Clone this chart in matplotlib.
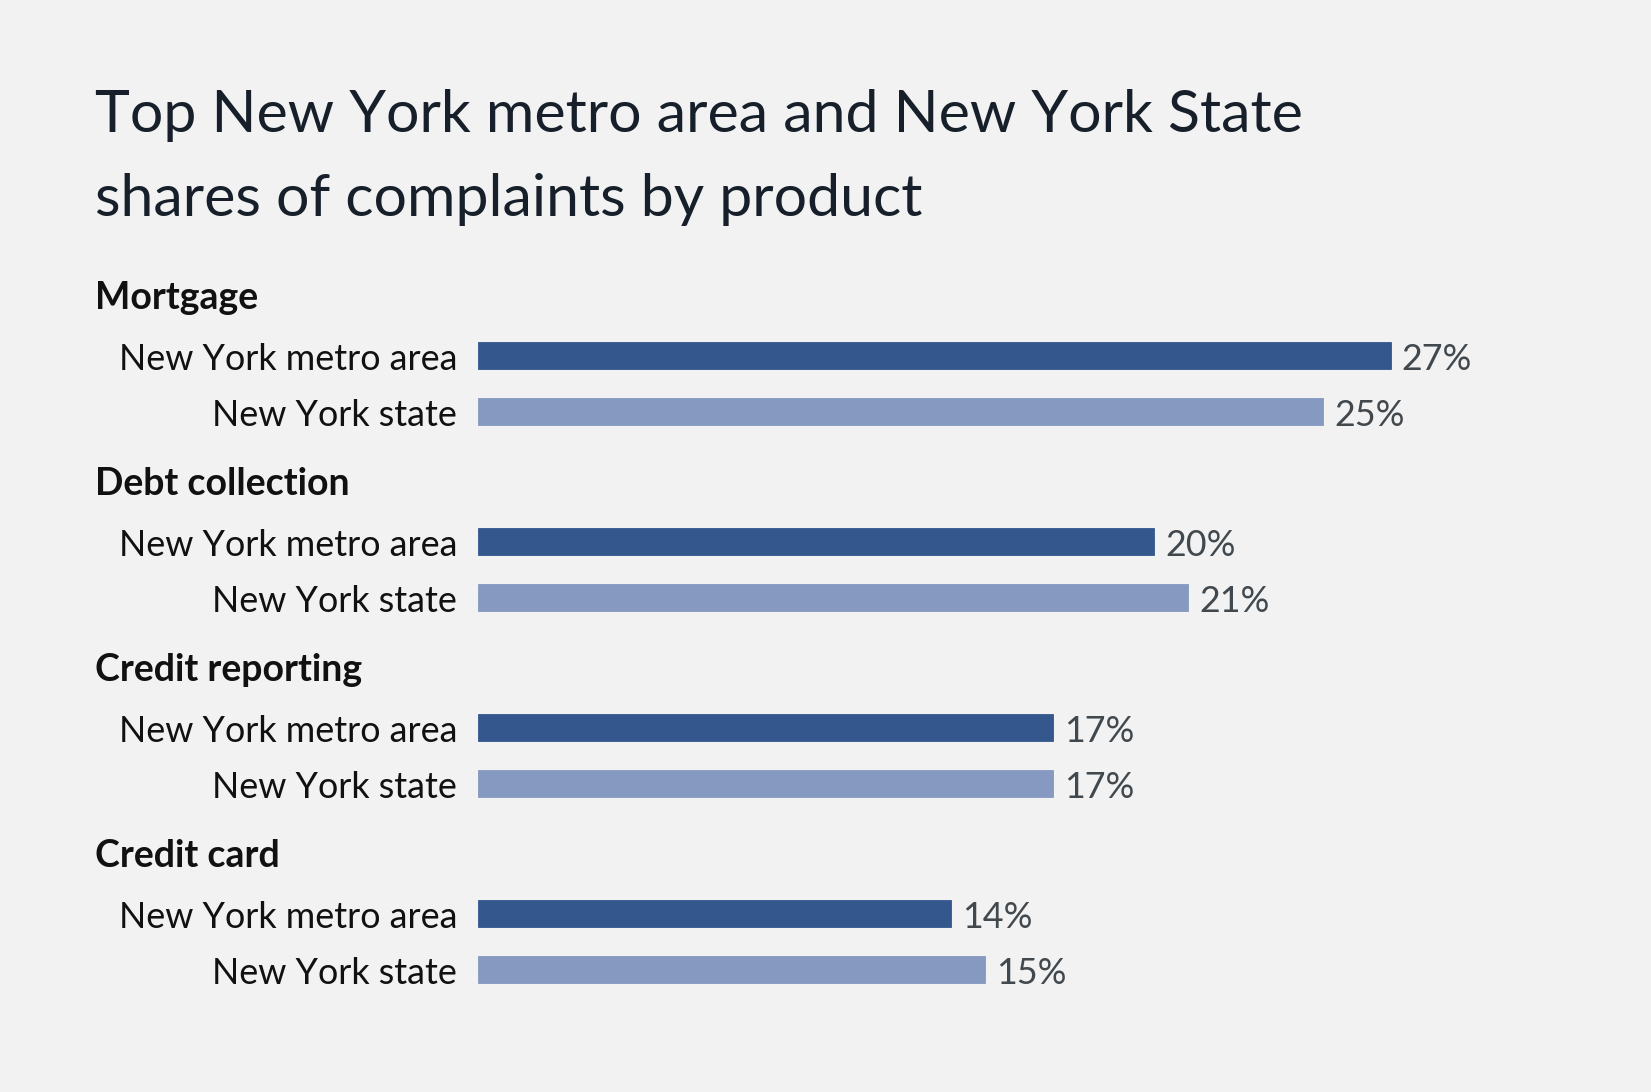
import matplotlib
matplotlib.use("Agg")
import matplotlib.pyplot as plt
from matplotlib.transforms import blended_transform_factory

products = ["Mortgage", "Debt collection", "Credit reporting", "Credit card"]
series = ["New York metro area", "New York state"]
metro_share = [27, 20, 17, 14]
state_share = [25, 21, 17, 15]

BG = "#f1f2f1"
DARK = "#34578e"
LIGHT = "#8599c1"
FONT = ["Lato", "DejaVu Sans"]

W, H = 1651, 1092
fig = plt.figure(figsize=(W / 100, H / 100), dpi=100)
fig.patch.set_facecolor(BG)

# axes placed in pixel terms: bars start at x=478, 1% = 33.8 px
x0, px_per_pct, xmax = 478, 33.8, 34
top_px, bot_px = 250, 1000
ax = fig.add_axes([x0 / W, (H - bot_px) / H, xmax * px_per_pct / W, (bot_px - top_px) / H])
ax.set_facecolor(BG)
ax.set_xlim(0, xmax)

row = 56.0                 # pixels per row unit
group_pitch = 186 / row
header_off = 61 / row
first_row_px = 355
ax.set_ylim((bot_px - first_row_px) / row, (top_px - first_row_px) / row)
ax.axis("off")

label_tf = blended_transform_factory(fig.transFigure, ax.transData)
nudge = 4 / row   # text sits a touch lower than bar centre

for i, prod in enumerate(products):
    y_metro = i * group_pitch
    y_state = y_metro + 1
    ax.barh(y_metro, metro_share[i], height=27 / row, color=DARK, edgecolor=DARK, lw=0.6)
    ax.barh(y_state, state_share[i], height=27 / row, color=LIGHT, edgecolor=LIGHT, lw=0.6)

    ax.text(95 / W, y_metro - header_off + nudge, prod, transform=label_tf, ha="left", va="center",
            fontsize=27, fontweight="bold", color="#111111", family=FONT)

    for y, name, val in [(y_metro, series[0], metro_share[i]), (y_state, series[1], state_share[i])]:
        ax.annotate(name, xy=(0, y + nudge), xytext=(-15, 0), textcoords="offset points",
                    ha="right", va="center", fontsize=25.8, color="#111111", family=FONT)
        ax.annotate(f"{val}%", xy=(val, y + nudge), xytext=(8, 0), textcoords="offset points",
                    ha="left", va="center", fontsize=25.8, color="#41484e", family=FONT)

fig.text(95 / W, 1 - 116 / H, "Top New York metro area and New York State",
         ha="left", va="center", fontsize=42.5, color="#17202a", family=FONT)
fig.text(95 / W, 1 - 200 / H, "shares of complaints by product",
         ha="left", va="center", fontsize=42.5, color="#17202a", family=FONT)

fig.savefig("out.png", dpi=100, facecolor=BG)
